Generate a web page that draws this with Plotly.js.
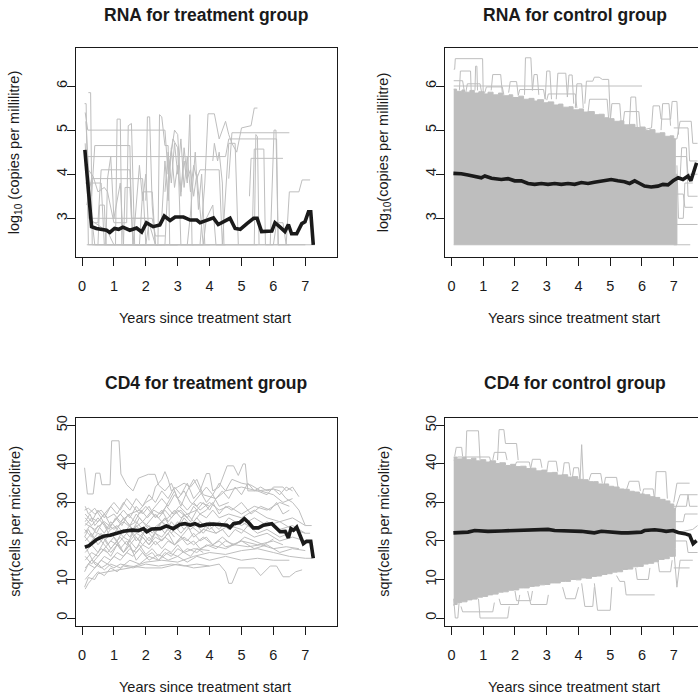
<!DOCTYPE html>
<html>
<head>
<meta charset="utf-8">
<script src="https://cdn.plot.ly/plotly-3.0.1.min.js"></script>
<style>html,body{margin:0;padding:0;background:#fff;}#chart{width:698px;height:698px;}</style>
</head>
<body>
<div id="chart"></div>
<script>
// ---------- data ----------
const xTickVals = [0, 1, 2, 3, 4, 5, 6, 7];
const rnaTickVals = [3, 4, 5, 6];
const cd4TickVals = [0, 10, 20, 30, 40, 50];

const panelTitles = ["RNA for treatment group", "RNA for control group", "CD4 for treatment group", "CD4 for control group"];
const xTitle = "Years since treatment start";
const yTitles = ["log<sub>10</sub> (copies per millilitre)", "log<sub>10</sub>(copies per millilitre)", "sqrt(cells per microlitre)", "sqrt(cells per microlitre)"];

// mean trajectories (black)
const rnaTreatMeanX = [0.09,0.3,0.45,0.6,0.77,0.87,1.02,1.15,1.28,1.5,1.71,1.87,2.02,2.23,2.44,2.58,2.76,2.92,3.18,3.39,3.6,3.7,3.91,4.12,4.27,4.43,4.64,4.8,4.96,5.17,5.38,5.49,5.63,5.95,6.05,6.21,6.36,6.47,6.57,6.73,6.89,6.99,7.1,7.17,7.25];
const rnaTreatMeanY = [4.55,2.81,2.77,2.76,2.73,2.68,2.77,2.75,2.8,2.73,2.78,2.69,2.9,2.81,2.85,3.05,2.95,3.03,3.03,2.96,2.96,2.9,2.95,3.01,2.86,2.92,3.0,2.77,2.75,2.88,3.0,3.0,2.7,2.71,2.9,2.8,2.7,2.86,2.65,2.65,2.88,2.92,3.15,3.15,2.4];

const rnaCtrlMeanX = [0.06,0.31,0.52,0.73,0.94,1.05,1.26,1.57,1.78,1.99,2.2,2.41,2.62,2.83,3.04,3.25,3.46,3.67,3.88,4.09,4.3,4.5,4.72,4.93,5.03,5.24,5.45,5.61,5.77,5.93,6.08,6.29,6.5,6.66,6.82,6.98,7.14,7.29,7.45,7.54,7.61,7.72];
const rnaCtrlMeanY = [4.02,4.01,3.98,3.94,3.92,3.96,3.91,3.88,3.9,3.85,3.85,3.79,3.77,3.79,3.77,3.79,3.77,3.79,3.77,3.81,3.79,3.82,3.85,3.86,3.88,3.85,3.83,3.79,3.85,3.79,3.73,3.71,3.73,3.77,3.76,3.85,3.92,3.88,3.96,3.85,4.03,4.26];

const cd4TreatMeanX = [0.09,0.22,0.46,0.67,0.88,1.04,1.3,1.56,1.77,1.93,2.03,2.19,2.45,2.65,2.86,3.07,3.23,3.39,3.54,3.7,3.91,4.12,4.33,4.54,4.64,4.75,4.95,5.09,5.22,5.37,5.53,5.69,5.95,6.05,6.21,6.37,6.47,6.55,6.63,6.73,6.84,6.94,7.04,7.17,7.25];
const cd4TreatMeanY = [18.4,18.8,20.4,21.2,21.5,21.9,22.5,22.8,22.7,23.2,22.4,23.1,23.2,23.9,23.2,24.3,24.5,24.1,24.5,23.9,24.3,24.4,24.3,24.1,23.5,24.5,24.8,25.8,24.8,23.4,23.4,24.1,24.5,23.6,22.4,22.5,20.8,23.2,22.8,23.6,21.5,19.3,19.9,19.9,15.5];

const cd4CtrlMeanX = [0.06,0.52,0.73,1.15,1.57,1.99,2.41,2.83,3.04,3.25,3.46,3.88,4.09,4.3,4.5,4.72,4.93,5.14,5.35,5.56,5.77,5.98,6.08,6.4,6.61,6.76,6.98,7.14,7.35,7.5,7.61,7.72];
const cd4CtrlMeanY = [22.1,22.3,22.7,22.5,22.6,22.7,22.9,22.9,23.0,22.7,22.7,22.6,22.5,22.3,22.1,22.5,22.3,22.3,22.1,22.1,22.1,22.3,22.7,22.9,22.7,22.5,22.7,22.2,21.9,21.5,19.3,20.1];

// dense control-group bands (upper edge, then lower edge back; drawn as steps)
const rnaCtrlBandX = [0.07,0.16,0.33,0.41,0.58,0.72,0.86,1.03,1.15,1.31,1.48,1.62,1.81,1.93,2.12,2.27,2.44,2.6,2.71,2.9,3.04,3.22,3.37,3.51,3.7,3.83,4.02,4.16,4.31,4.5,4.64,4.81,4.97,5.12,5.3,5.43,5.62,5.78,5.93,6.1,6.24,6.41,6.57,6.72,6.88,7.0,7.05,7.1, 7.1,0.07];
const rnaCtrlBandY = [5.93,5.88,5.91,5.86,5.9,5.84,5.87,5.82,5.86,5.8,5.84,5.78,5.8,5.74,5.77,5.7,5.72,5.66,5.69,5.62,5.64,5.57,5.59,5.52,5.53,5.46,5.48,5.41,5.42,5.35,5.36,5.28,5.26,5.2,5.21,5.12,5.13,5.06,5.07,4.99,5.01,4.93,4.94,4.86,4.87,4.8,4.0,2.4, 2.4,2.4];
const cd4CtrlBandX = [0.07,0.17,0.34,0.46,0.63,0.77,0.92,1.08,1.21,1.39,1.52,1.7,1.86,2.02,2.17,2.35,2.51,2.66,2.84,3.0,3.17,3.33,3.48,3.66,3.81,3.98,4.14,4.3,4.47,4.62,4.79,4.95,5.11,5.28,5.43,5.6,5.76,5.92,6.08,6.25,6.41,6.56,6.73,6.88,7.0,7.05, 7.05,7.0,6.86,6.7,6.52,6.37,6.2,6.04,5.88,5.71,5.55,5.39,5.22,5.06,4.9,4.73,4.57,4.41,4.24,4.08,3.92,3.75,3.59,3.43,3.26,3.1,2.94,2.77,2.61,2.45,2.28,2.12,1.96,1.79,1.63,1.47,1.3,1.14,0.98,0.81,0.65,0.49,0.32,0.18,0.07];
const cd4CtrlBandY = [41.8,41.3,41.7,41.1,41.5,40.8,41.1,40.5,40.8,40.1,40.3,39.6,39.9,39.3,39.4,38.8,38.9,38.2,38.4,37.7,37.8,37.1,37.2,36.6,36.7,36.0,35.9,35.4,35.4,34.8,34.8,34.2,34.0,33.5,33.4,32.9,32.7,32.2,32.0,31.5,31.3,30.8,30.4,29.6,28.5,18, 16,16,15.4,15.2,14.6,14.2,14.0,13.4,13.3,12.7,12.6,12.0,11.9,11.5,11.3,10.9,10.8,10.3,10.4,9.9,10.0,9.5,9.5,9.1,9.1,8.7,8.6,8.3,8.2,7.8,7.8,7.3,7.2,6.8,6.7,6.2,6.0,5.6,5.4,4.9,4.7,4.2,4.0,3.5,3.2];

// individual trajectories (grey)
const rnaTreatPaths = [
 [[0.15,2.4],[7.3,2.4]],
 [[0.08,5.6],[0.13,5.6],[0.2,2.4],[2.0,2.4],[2.1,2.9],[2.3,2.4],[4.5,2.4]],
 [[0.1,5.4],[0.18,5.0],[2.6,5.0],[2.7,4.0],[2.85,4.8],[3.0,4.6],[3.1,2.4],[3.5,2.4]],
 [[0.2,5.85],[0.27,5.85],[0.32,2.4],[1.05,2.4],[1.1,5.25],[1.2,5.25],[1.25,2.4],[3.0,2.4]],
 [[0.12,4.4],[4.5,4.4],[4.6,4.8],[6.1,4.8],[6.15,2.4],[7.0,2.4]],
 [[0.12,5.2],[0.3,2.9],[0.5,2.9],[0.6,4.1],[1.5,4.1],[1.6,2.4],[2.5,2.4]],
 [[0.1,4.2],[0.35,3.95],[0.5,3.6],[0.7,3.7],[0.8,3.6],[1.0,2.9],[1.4,2.9],[1.45,5.1],[1.55,5.15],[1.65,2.4],[2.38,2.4],[2.43,5.35],[2.5,5.3],[2.6,4.65],[2.7,4.65],[2.75,2.4],[4.0,2.4]],
 [[0.15,4.0],[0.4,2.4],[2.6,2.4],[2.7,3.9],[2.8,4.5],[2.9,5.0],[3.0,4.9],[3.1,3.6],[3.2,4.3],[3.3,3.8],[3.38,5.35],[3.45,2.4],[5.5,2.4]],
 [[0.1,3.8],[0.6,3.8],[0.7,2.4],[1.8,2.4],[1.9,3.6],[2.2,3.6],[2.3,2.4],[3.0,2.4]],
 [[2.5,3.0],[2.6,4.3],[2.7,3.4],[2.8,4.6],[2.9,3.7],[3.0,4.2],[3.1,3.5],[3.2,4.6],[3.3,3.9],[3.4,4.1],[3.5,3.5],[3.6,4.0],[3.7,3.2],[3.8,2.4]],
 [[2.6,3.6],[2.7,4.5],[2.8,3.8],[2.9,4.7],[3.0,4.0],[3.1,4.8],[3.2,3.7],[3.3,4.4],[3.4,3.6],[3.5,4.2],[3.6,3.9],[3.7,4.1],[4.3,4.1],[4.4,2.4]],
 [[3.7,2.4],[3.85,3.8],[3.95,5.37],[4.15,5.37],[4.3,4.8],[4.5,5.2],[4.6,4.9],[4.7,4.7],[4.85,4.5],[5.0,5.05],[5.3,5.1],[5.4,5.5],[5.5,5.5]],
 [[4.4,2.4],[4.5,3.5],[4.6,4.7],[4.8,4.7],[4.9,2.4]],
 [[5.35,3.0],[5.4,4.57],[5.7,4.57],[5.75,2.4],[6.2,2.4]],
 [[5.9,2.4],[6.02,5.0],[6.08,5.0],[6.15,2.4],[6.5,2.4]],
 [[6.4,2.4],[6.5,3.6],[6.8,3.6],[6.9,3.87],[7.15,3.87]],
 [[4.6,3.9],[4.7,4.94],[6.5,4.94]],
 [[5.25,3.5],[5.3,4.36],[6.3,4.36]],
 [[0.3,3.5],[0.4,4.65],[1.5,4.65],[1.55,3.0],[2.0,3.0]],
 [[0.15,3.3],[0.3,3.9],[1.9,3.9],[2.0,2.4]],
 [[0.3,3.0],[2.2,3.0],[2.3,2.6],[2.6,2.6]],
 [[5.4,2.4],[5.45,4.9],[5.5,4.85],[5.55,2.4]],
 [[6.0,2.4],[6.1,2.9],[6.3,2.9],[6.4,2.4]],
 [[0.1,4.7],[0.2,3.0],[0.8,2.7],[1.0,2.4],[3.8,2.4],[3.9,3.0],[4.1,3.3],[4.2,2.4],[6.0,2.4]],
 [[0.75,2.4],[0.8,3.9],[0.9,4.4],[1.0,3.0],[1.2,3.8],[1.3,2.4]],
 [[1.6,2.4],[1.7,3.3],[1.8,4.2],[1.9,3.4],[2.0,4.0],[2.1,2.5]],
 [[3.3,2.4],[3.4,3.1],[3.55,4.5],[3.65,3.2],[3.75,4.0],[3.85,2.4]],
 [[2.0,3.4],[2.05,5.3],[2.12,5.3],[2.2,3.3],[2.3,2.4]],
 [[1.3,2.4],[1.35,3.7],[1.5,3.7],[1.6,2.4]],
 [[0.5,2.4],[0.55,3.3],[0.7,3.3],[0.75,2.4]],
 [[4.1,4.3],[4.15,4.7],[4.25,4.3],[4.3,4.5],[4.4,3.8],[4.45,2.4]]
];

const rnaCtrlPaths = [
 [[0.07,6.38],[0.1,6.38],[0.12,6.62],[0.98,6.62],[1.0,5.8]],
 [[0.25,5.9],[0.28,6.34],[0.6,6.34],[0.62,5.9]],
 [[0.74,5.9],[0.76,6.45],[0.8,6.45],[0.82,5.9]],
 [[1.25,5.9],[1.3,6.26],[1.55,6.26],[1.6,5.85]],
 [[0.07,6.0],[6.0,6.0]],
 [[0.07,6.12],[0.35,6.12],[0.4,5.9]],
 [[0.45,5.85],[0.5,6.05],[0.9,6.05],[0.95,5.85]],
 [[1.05,5.85],[1.1,5.98],[1.6,5.98],[1.65,5.8]],
 [[2.3,5.8],[2.33,6.64],[2.5,6.64],[2.55,5.9],[2.6,6.26],[2.7,6.26],[2.75,5.8]],
 [[2.95,5.7],[3.0,6.34],[3.1,6.34],[3.15,5.7]],
 [[3.3,5.7],[3.35,6.29],[3.6,6.29],[3.65,5.75],[3.7,6.25],[3.8,6.25],[3.85,5.6]],
 [[4.2,5.6],[4.25,6.11],[4.45,6.11],[4.5,6.2],[4.65,6.2],[4.75,6.15],[4.95,6.15],[5.0,5.3]],
 [[1.8,5.85],[1.85,6.1],[2.05,6.1],[2.1,5.8]],
 [[2.1,5.78],[2.15,5.92],[2.9,5.92],[2.95,5.7]],
 [[3.9,5.5],[3.95,6.05],[4.1,6.05],[4.15,5.5]],
 [[3.0,5.68],[3.05,5.82],[3.9,5.82],[3.95,5.5]],
 [[4.3,5.4],[4.35,5.7],[4.9,5.7],[4.95,5.25]],
 [[5.0,5.2],[5.05,5.6],[5.3,5.6],[5.35,5.1]],
 [[5.4,5.12],[5.45,5.42],[5.9,5.42],[5.95,5.0]],
 [[5.6,5.05],[5.65,5.75],[5.8,5.75],[5.85,5.05]],
 [[6.0,5.0],[6.3,5.05],[6.35,5.55],[6.55,5.55],[6.6,5.25],[6.9,5.25],[6.95,5.65],[7.1,5.65],[7.15,4.9]],
 [[6.6,5.0],[6.65,5.6],[6.85,5.6],[6.9,5.1]],
 [[6.9,4.8],[7.1,4.8],[7.2,5.2],[7.55,5.2],[7.6,4.7],[7.75,4.7]],
 [[7.0,4.4],[7.4,4.4],[7.45,4.0],[7.75,4.0]],
 [[7.0,3.55],[7.3,3.55],[7.35,3.25],[7.6,3.25]],
 [[7.05,2.86],[7.75,2.86]],
 [[7.0,2.4],[7.52,2.4]],
 [[7.0,5.05],[7.45,5.05],[7.5,4.3],[7.75,4.3]],
 [[7.05,3.9],[7.2,3.9],[7.25,4.6],[7.4,4.6],[7.45,3.5],[7.75,3.5]],
 [[7.1,4.2],[7.15,3.0],[7.3,3.0],[7.35,3.8],[7.6,3.8]]
];

const cd4TreatPaths = [
 [[0.08,39],[0.17,32.2],[0.35,32.2],[0.43,37.6],[0.56,37.6],[0.62,34.6],[0.88,34.6],[0.93,46],[1.16,46],[1.22,37.4],[1.4,34.6],[1.6,33],[1.77,36.3],[2.08,37.3],[2.29,37.3],[2.4,34.5],[2.6,33],[2.8,35],[3.0,31],[3.2,33],[3.4,30],[3.6,29],[3.7,30],[4.0,29]],
 [[2.5,27],[2.7,30],[2.9,33],[3.1,29],[3.3,33],[3.5,36],[3.7,33],[3.9,37.5],[4.0,37.5],[4.1,33],[4.3,34],[4.55,39.5],[4.75,39.5],[4.9,37],[5.05,40],[5.12,40],[5.2,33],[5.5,33],[5.8,32],[6.0,34],[6.3,34],[6.4,33],[6.6,34],[6.8,31.5]],
 [[0.08,28],[0.2,28.5],[0.4,27],[0.6,28],[0.8,26],[1.0,27],[1.2,25],[1.5,27],[1.8,28],[2.0,30],[2.2,31],[2.3,34],[2.5,36],[2.6,38],[2.7,36],[2.8,33],[3.0,34],[3.2,35],[3.4,34],[3.6,36],[3.8,32],[4.2,31],[4.5,33],[5.0,34],[5.5,33],[6.0,33.5],[6.2,33],[6.4,31],[6.6,30],[6.8,28],[7.0,24],[7.2,24]],
 [[0.1,24],[0.3,26],[0.5,25],[0.7,27],[0.9,24],[1.1,26],[1.3,28],[1.5,26],[1.7,29],[1.9,27],[2.1,29],[2.3,26],[2.5,28],[2.7,25],[2.9,27],[3.1,28],[3.3,26],[3.5,29],[3.7,27],[3.9,28],[4.1,30],[4.3,27],[4.5,29],[4.7,28],[5.0,30],[5.3,27],[5.6,29],[5.9,28],[6.1,30],[6.3,27],[6.5,28]],
 [[0.1,7.5],[0.2,9],[0.3,10],[0.5,12],[0.7,11],[0.9,13],[1.1,12],[1.3,13.5],[1.6,13],[2.0,14],[2.4,13.5],[2.8,14],[3.2,13.5],[3.6,14],[4.0,13.5],[4.3,14],[4.5,12],[4.6,9],[4.7,9],[4.9,13],[5.4,13],[5.6,11],[5.9,13.5],[6.1,13.5],[6.3,10.7],[6.5,10.7],[6.7,12],[6.9,12.5]],
 [[0.08,8],[0.2,10.5],[0.4,10],[0.5,11.5],[0.8,12],[1.2,12.5],[1.5,13],[2.0,14.5],[2.5,15],[3.0,14.5],[3.5,16],[4.0,17],[4.5,16.5],[5.0,17.5],[5.5,18],[6.0,17],[6.5,16],[7.0,15.5],[7.2,15.5]],
 [[0.08,12],[0.2,14],[0.4,13],[0.6,15],[0.8,14],[1.0,16],[1.2,15],[1.4,17],[1.6,16],[1.8,18],[2.0,16],[2.2,17],[2.4,15],[2.6,17],[2.8,16],[3.0,18],[3.2,17],[3.4,16],[3.6,18],[3.8,17]],
 [[0.1,15],[0.3,17],[0.5,16],[0.7,18],[0.9,20],[1.1,19],[1.3,21],[1.5,20],[1.7,22],[1.9,21],[2.1,19],[2.3,21],[2.5,20],[2.7,22],[2.9,19],[3.1,21],[3.3,20],[3.5,22],[3.7,20],[3.9,21],[4.1,19],[4.3,20],[4.5,18.5],[4.8,19],[5.2,18.5],[5.6,19],[6.0,18],[6.4,18.5],[6.8,18]],
 [[0.1,18],[0.3,20],[0.5,22],[0.7,21],[0.9,23],[1.1,24],[1.3,22],[1.5,24],[1.7,25],[1.9,23],[2.1,25],[2.3,27],[2.5,25],[2.7,26],[2.9,28],[3.1,26],[3.3,27],[3.5,25],[3.7,27],[3.9,26],[4.1,28],[4.3,26],[4.6,27],[5.0,26],[5.4,28],[5.8,26],[6.2,25],[6.6,26],[7.0,24]],
 [[0.08,21],[0.2,23],[0.4,20],[0.6,22],[0.8,19],[1.0,21],[1.2,18],[1.4,20],[1.6,17],[1.8,19],[2.0,16.5],[2.2,18],[2.4,16],[2.6,18],[2.8,17],[3.0,19],[3.2,17],[3.5,18],[4.0,17.5]],
 [[0.1,25],[0.25,27],[0.4,24],[0.6,26],[0.8,23],[1.0,25],[1.2,27],[1.4,25],[1.6,23],[1.8,26],[2.0,24],[2.2,22],[2.4,24],[2.6,26],[2.8,23],[3.0,25],[3.2,23],[3.4,25],[3.6,24],[3.8,22],[4.0,24],[4.2,22],[4.4,23],[4.6,21],[4.8,23],[5.0,22],[5.2,24],[5.5,22],[5.8,23],[6.2,21],[6.5,22]],
 [[0.1,20],[0.3,22],[0.5,19],[0.7,21],[0.9,18],[1.1,20],[1.3,17],[1.5,19],[1.7,15],[1.9,17],[2.1,15],[2.4,16.5],[2.7,15],[3.0,16],[3.3,14.5],[3.6,16],[4.0,15],[4.5,16],[5.0,15],[5.5,15.5],[6.0,15],[6.5,15]],
 [[0.1,27],[0.3,25],[0.5,28],[0.7,26],[0.9,29],[1.1,27],[1.3,30],[1.5,28],[1.7,31],[1.9,29],[2.1,32],[2.3,30],[2.5,33],[2.7,31],[2.9,34],[3.1,32],[3.3,35],[3.5,31],[3.7,33],[3.9,30],[4.1,32],[4.3,29],[4.6,30]],
 [[0.1,17],[0.3,19],[0.5,17],[0.7,20],[0.9,22],[1.1,20],[1.3,23],[1.5,21],[1.7,24],[1.9,22],[2.1,24],[2.3,22],[2.5,25],[2.7,23],[2.9,24],[3.1,22],[3.3,24],[3.5,21],[3.8,23],[4.2,22],[4.6,24],[5.0,23],[5.4,21],[5.8,22],[6.2,20],[6.6,21],[7.0,20]],
 [[0.1,13],[0.3,15],[0.5,14],[0.7,16],[0.9,15],[1.1,17],[1.3,16],[1.5,18],[1.7,17],[1.9,19],[2.1,18],[2.3,20],[2.5,18],[2.7,20],[2.9,19],[3.1,21],[3.3,19],[3.5,20],[3.7,18],[4.0,19],[4.5,18],[5.0,20],[5.5,19],[6.0,20],[6.3,19]],
 [[0.08,23],[0.3,21],[0.5,24],[0.7,22],[0.9,25],[1.1,23],[1.3,26],[1.5,24],[1.7,27],[1.9,25],[2.1,27],[2.3,29],[2.5,31],[2.7,29],[2.9,32],[3.1,30],[3.3,28],[3.5,30],[3.7,28],[4.0,30],[4.3,28],[4.6,29],[5.0,27],[5.4,29],[5.8,28],[6.2,30],[6.5,29]],
 [[0.1,19],[0.2,17],[0.4,14],[0.6,13],[0.8,14],[1.0,13],[1.2,14],[1.5,13.5],[2.0,13],[2.5,13],[3.0,14],[3.5,13],[4.0,13.5]],
 [[0.1,26],[0.3,24],[0.5,26],[0.7,24],[0.9,21],[1.1,23],[1.3,21],[1.5,23],[1.7,20],[1.9,22],[2.1,20],[2.3,22],[2.5,21],[2.7,23],[2.9,21]],
 [[0.1,16],[0.3,14],[0.5,16],[0.7,18],[0.9,16],[1.1,19],[1.3,17],[1.5,20],[1.7,18],[1.9,21],[2.1,19],[2.3,22],[2.5,20],[2.8,23],[3.1,21],[3.4,24],[3.7,22],[4.0,25],[4.3,23],[4.6,26],[5.0,24],[5.4,26],[5.8,24],[6.2,25],[6.6,23],[7.0,22]],
 [[0.08,22],[0.25,24],[0.45,22],[0.65,25],[0.85,23],[1.05,26],[1.25,24],[1.45,27],[1.65,25],[1.85,28],[2.05,26],[2.25,28],[2.45,27],[2.65,29],[2.85,27],[3.05,29],[3.3,27],[3.6,28]],
 [[0.1,10],[0.3,12],[0.5,14],[0.7,12.5],[0.9,14],[1.2,13],[1.5,15],[1.8,14],[2.1,16],[2.4,15],[2.7,17],[3.0,16],[3.3,18],[3.6,17],[3.9,19],[4.2,18],[4.5,20],[4.8,19],[5.1,21],[5.4,20],[5.7,19],[6.0,20.5]],
 [[0.1,29],[0.2,27],[0.4,28.5],[0.6,26],[0.8,28],[1.0,30],[1.2,28],[1.4,31],[1.6,29],[1.8,27],[2.0,29],[2.2,27],[2.4,26],[2.6,28],[2.8,26],[3.0,28],[3.3,26]],
 [[2.8,22],[3.0,24],[3.2,27],[3.4,25],[3.6,28],[3.8,30],[4.0,28],[4.2,31],[4.4,33],[4.6,31],[4.8,34],[5.0,32],[5.2,35],[5.4,33],[5.6,34],[5.8,33],[6.0,33.5],[6.2,32],[6.4,34],[6.6,33]],
 [[0.1,21],[0.3,19],[0.5,21],[0.7,19],[0.9,17],[1.1,19],[1.3,17],[1.5,19],[1.7,21],[1.9,19],[2.1,21],[2.3,19],[2.6,21],[2.9,19],[3.2,21],[3.5,19],[3.8,21],[4.1,19],[4.4,21],[4.7,19],[5.0,20],[5.4,18],[5.8,19],[6.2,17],[6.6,18],[7.0,17.5]],
 [[0.2,14],[0.4,16],[0.6,18],[0.8,17],[1.0,19],[1.2,21],[1.4,19],[1.6,22],[1.8,20],[2.0,23],[2.2,21],[2.4,24],[2.6,22],[2.8,25],[3.0,23],[3.2,26],[3.4,24],[3.6,26],[3.8,24]],
 [[0.1,24.5],[0.4,23],[0.7,25],[1.0,23],[1.3,25],[1.6,23],[1.9,25],[2.2,23],[2.5,25],[2.8,23],[3.1,25],[3.4,23],[3.7,25],[4.0,23],[4.3,25],[4.6,23],[5.0,25],[5.4,23],[5.8,25],[6.2,23],[6.6,24],[7.0,22],[7.15,22]],
 [[3.5,30],[3.7,32],[3.9,34],[4.1,32],[4.3,35],[4.5,33],[4.7,36],[5.0,35],[5.3,34.5],[5.6,33],[6.0,32],[6.3,30],[6.6,31]]
];

const cd4CtrlPaths = [
 [[0.1,42],[0.15,44.3],[0.32,44.3],[0.35,42]],
 [[0.45,41],[0.48,48.6],[0.85,48.6],[0.9,41]],
 [[1.3,41],[1.35,43],[1.7,43],[1.75,41]],
 [[1.45,41],[1.5,48.9],[1.65,48.9],[1.7,45.3],[2.05,45.3],[2.1,41]],
 [[2.5,39],[2.55,41.2],[2.8,41.2],[2.85,39]],
 [[3.0,38],[3.05,40.7],[3.3,40.7],[3.35,38]],
 [[3.5,37],[3.55,40.3],[3.7,40.3],[3.75,37]],
 [[4.05,36],[4.1,45],[4.15,36]],
 [[4.3,35],[4.4,37.5],[4.7,37.5],[4.75,35]],
 [[5.5,33],[5.6,35.5],[5.9,35.5],[5.95,33]],
 [[6.4,31],[6.45,38],[6.75,38],[6.8,31]],
 [[0.07,41],[0.2,41.8],[1.2,41.8],[1.25,40]],
 [[2.0,39.5],[2.05,40.5],[2.45,40.5],[2.5,38.5]],
 [[3.8,36],[3.85,39],[4.0,39],[4.05,35.5]],
 [[4.8,34],[4.85,36.5],[5.2,36.5],[5.25,33.5]],
 [[6.0,31.5],[6.05,33.5],[6.35,33.5],[6.4,30.5]],
 [[7.0,30],[7.1,35],[7.5,35]],
 [[7.0,27],[7.2,32],[7.45,32],[7.5,29],[7.75,29]],
 [[7.0,25],[7.3,25],[7.35,27],[7.75,27]],
 [[7.0,20],[7.4,20],[7.45,17],[7.75,17]],
 [[7.0,18],[7.1,8],[7.2,15],[7.6,15]],
 [[7.0,22],[7.6,23],[7.75,24]],
 [[7.0,13],[7.5,13]],
 [[7.0,29],[7.4,29],[7.45,32],[7.75,32]],
 [[0.07,5],[0.12,0],[0.2,0],[0.25,5]],
 [[0.3,3],[0.35,1.6],[1.3,1.6],[1.35,4]],
 [[0.85,5],[0.9,0],[1.77,0],[1.82,3]],
 [[1.5,5],[1.55,3.5],[2.1,3.5],[2.15,6]],
 [[2.4,7],[2.5,3.5],[3.0,3.5],[3.05,6]],
 [[4.5,9],[4.6,2.0],[5.0,2.0],[5.05,8]],
 [[4.1,9],[4.2,3.0],[4.45,3.0],[4.5,8]],
 [[5.2,11],[5.3,9.5],[5.45,9.5],[5.5,6],[6.4,6]],
 [[3.5,8],[3.6,5],[3.9,5],[4.0,8]],
 [[2.0,7],[2.05,4.5],[2.5,4.5],[2.55,7]],
 [[5.8,13],[5.85,10],[6.2,10],[6.25,13]],
 [[6.5,15],[6.55,12],[6.9,12],[6.95,15]]
];

// ---------- helpers ----------
function flatten(paths) {
  const xs = [], ys = [];
  paths.forEach(p => { p.forEach(pt => { xs.push(pt[0]); ys.push(pt[1]); }); xs.push(null); ys.push(null); });
  return {xs, ys};
}
const GREY = '#BEBEBE';
const INK = '#1a1a1a';
const FONT = 'Liberation Sans, Arial, Helvetica, sans-serif';

const traces = [];
function greyTrace(paths, xa, ya) {
  const f = flatten(paths);
  traces.push({x: f.xs, y: f.ys, xaxis: xa, yaxis: ya, type: 'scatter', mode: 'lines',
    line: {color: GREY, width: 1}, connectgaps: false, hoverinfo: 'skip', showlegend: false});
}
function bandTrace(bx, by, xa, ya) {
  traces.push({x: bx, y: by, xaxis: xa, yaxis: ya, type: 'scatter', mode: 'lines', fill: 'toself',
    fillcolor: GREY, line: {color: GREY, width: 1, shape: 'hv'}, hoverinfo: 'skip', showlegend: false});
}
function meanTrace(mx, my, xa, ya) {
  traces.push({x: mx, y: my, xaxis: xa, yaxis: ya, type: 'scatter', mode: 'lines',
    line: {color: INK, width: 3.6}, hoverinfo: 'skip', showlegend: false});
}
function labelHolder(xa, ya) {
  traces.push({x: [], y: [], xaxis: xa, yaxis: ya, type: 'scatter', mode: 'lines', hoverinfo: 'skip', showlegend: false});
}

greyTrace(rnaTreatPaths, 'x', 'y');
meanTrace(rnaTreatMeanX, rnaTreatMeanY, 'x', 'y');
bandTrace(rnaCtrlBandX, rnaCtrlBandY, 'x2', 'y2');
greyTrace(rnaCtrlPaths, 'x2', 'y2');
meanTrace(rnaCtrlMeanX, rnaCtrlMeanY, 'x2', 'y2');
greyTrace(cd4TreatPaths, 'x3', 'y3');
meanTrace(cd4TreatMeanX, cd4TreatMeanY, 'x3', 'y3');
bandTrace(cd4CtrlBandX, cd4CtrlBandY, 'x4', 'y4');
greyTrace(cd4CtrlPaths, 'x4', 'y4');
meanTrace(cd4CtrlMeanX, cd4CtrlMeanY, 'x4', 'y4');
labelHolder('x', 'y5');
labelHolder('x2', 'y6');
labelHolder('x3', 'y7');
labelHolder('x4', 'y8');

// ---------- layout ----------
const W = 698;
const leftDom = [75.5 / W, 336.5 / W];
const rightDom = [444.5 / W, 1];
const topDom = [1 - 256.5 / W, 1 - 48 / W];
const botDom = [1 - 625.7 / W, 1 - 417.7 / W];
const rnaRange = [2.134, 6.862];
const cd4Range = [-2, 52];

function xAxis(dom, range, anchor) {
  return {domain: dom, range: range, anchor: anchor, tickvals: xTickVals, ticktext: xTickVals.map(String),
    ticks: 'outside', ticklen: 8, tickwidth: 1, tickcolor: INK, showline: true, linecolor: INK, linewidth: 1,
    mirror: true, showgrid: false, zeroline: false, ticklabelstandoff: 8,
    tickfont: {family: FONT, size: 14.5, color: INK}};
}
function yAxis(dom, range, anchor, vals, mirror) {
  return {domain: dom, range: range, anchor: anchor, tickvals: vals, showticklabels: false,
    ticks: 'outside', ticklen: 8, tickwidth: 1, tickcolor: INK, showline: true, linecolor: INK, linewidth: 1,
    mirror: mirror, showgrid: false, zeroline: false};
}
// label-only axes, shifted so rotated labels sit where the reference puts them
function yLabelAxis(base, range, vals, pos) {
  return {overlaying: base, anchor: 'free', position: pos, range: range, tickvals: vals, ticktext: vals.map(String),
    ticks: 'outside', ticklen: 8, tickcolor: 'rgba(0,0,0,0)', showline: false, showgrid: false, zeroline: false,
    tickangle: -90, tickfont: {family: FONT, size: 14.5, color: INK}};
}

const annotations = [];
function ann(text, x, y, size, angle) {
  annotations.push({text: text, x: x, y: y, xref: 'paper', yref: 'paper', xanchor: 'center', yanchor: 'middle',
    showarrow: false, textangle: angle || 0, font: {family: FONT, size: size, color: INK}});
}
const cx = [206 / W, 575 / W];
ann('<b>' + panelTitles[0] + '</b>', cx[0], 1 - 15 / W, 17.5);
ann('<b>' + panelTitles[1] + '</b>', cx[1], 1 - 15 / W, 17.5);
ann('<b>' + panelTitles[2] + '</b>', cx[0], 1 - 383 / W, 17.5);
ann('<b>' + panelTitles[3] + '</b>', cx[1], 1 - 383 / W, 17.5);
ann(xTitle, 205 / W, 1 - 318.3 / W, 14.5);
ann(xTitle, 574 / W, 1 - 318.3 / W, 14.5);
ann(xTitle, 205 / W, 1 - 687.3 / W, 14.5);
ann(xTitle, 574 / W, 1 - 687.3 / W, 14.5);
ann(yTitles[0], 15 / W, 1 - 152.3 / W, 14.5, -90);
ann(yTitles[1], 384 / W, 1 - 152.3 / W, 14.5, -90);
ann(yTitles[2], 15 / W, 1 - 521.7 / W, 14.5, -90);
ann(yTitles[3], 384 / W, 1 - 521.7 / W, 14.5, -90);

const layout = {
  width: 698, height: 698, margin: {l: 0, r: 0, t: 0, b: 0},
  paper_bgcolor: '#ffffff', plot_bgcolor: '#ffffff', showlegend: false,
  font: {family: FONT, color: INK},
  xaxis: xAxis(leftDom, [-0.204, 7.978], 'y'),
  yaxis: yAxis(topDom, rnaRange, 'x', rnaTickVals, true),
  xaxis2: xAxis(rightDom, [-0.22, 7.764], 'y2'),
  yaxis2: yAxis(topDom, rnaRange, 'x2', rnaTickVals, false),
  xaxis3: xAxis(leftDom, [-0.204, 7.978], 'y3'),
  yaxis3: yAxis(botDom, cd4Range, 'x3', cd4TickVals, true),
  xaxis4: xAxis(rightDom, [-0.22, 7.764], 'y4'),
  yaxis4: yAxis(botDom, cd4Range, 'x4', cd4TickVals, false),
  yaxis5: yLabelAxis('y', rnaRange, rnaTickVals, 80.5 / W),
  yaxis6: yLabelAxis('y2', rnaRange, rnaTickVals, 450 / W),
  yaxis7: yLabelAxis('y3', cd4Range, cd4TickVals, 80.5 / W),
  yaxis8: yLabelAxis('y4', cd4Range, cd4TickVals, 450 / W),
  annotations: annotations
};

Plotly.newPlot('chart', traces, layout, {displayModeBar: false, staticPlot: true});
</script>
</body>
</html>
